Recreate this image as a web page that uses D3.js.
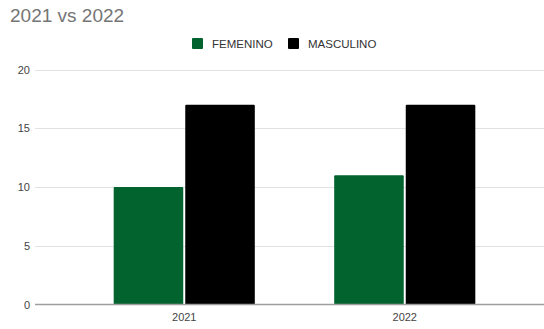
<!DOCTYPE html>
<html>
<head>
<meta charset="utf-8">
<script src="https://cdn.jsdelivr.net/npm/d3@7"></script>
<style>
  html, body { margin: 0; padding: 0; background: #fff; }
  svg { display: block; font-family: Arial, "Liberation Sans", sans-serif; }
</style>
</head>
<body>
<svg id="chart" width="544" height="329"></svg>
<script>
const title = "2021 vs 2022";
const categories = ["2021", "2022"];
const seriesNames = ["FEMENINO", "MASCULINO"];
const femenino = [10, 11];
const masculino = [17, 17];
const yTicks = [0, 5, 10, 15, 20];
const colors = ["#02632f", "#000000"];

const seriesValues = [femenino, masculino];
const svg = d3.select("#chart");
const W = 544, H = 329;

const y = d3.scaleLinear().domain([0, 20]).range([304.5, 69.5]);
const x0 = d3.scaleBand().domain(categories).range([74, 515]).paddingInner(0.36).paddingOuter(0.18);
const x1 = d3.scaleBand().domain(seriesNames).range([0, x0.bandwidth()]).paddingInner(0.028);

// title
svg.append("text").attr("x", 10).attr("y", 21.5)
  .attr("font-size", 19).attr("fill", "#757575").text(title);

// gridlines
const gridG = svg.append("g");
gridG.selectAll("line").data(yTicks.filter(d => d !== 0)).join("line")
  .attr("x1", 35).attr("x2", W)
  .attr("y1", d => Math.round(y(d)) + 0.5).attr("y2", d => Math.round(y(d)) + 0.5)
  .attr("stroke", "#e2e2e2").attr("stroke-width", 1);

// y labels
const yAxis = d3.axisLeft(y).tickValues(yTicks).tickSize(0).tickPadding(0);
const yg = svg.append("g").attr("transform", "translate(30,0)").call(yAxis);
yg.select(".domain").remove();
yg.selectAll("text").attr("font-size", 11).attr("fill", "#444").attr("font-family", "Arial, 'Liberation Sans', sans-serif");

// bars
const groups = svg.append("g").selectAll("g").data(categories).join("g")
  .attr("transform", d => `translate(${x0(d)},0)`);
groups.selectAll("rect").data((c, i) => seriesNames.map((s, j) => ({s, v: seriesValues[j][i], j})))
  .join("rect")
  .attr("x", d => x1(d.s))
  .attr("width", x1.bandwidth())
  .attr("y", d => y(d.v))
  .attr("height", d => y(0) - y(d.v))
  .attr("rx", 1)
  .attr("fill", d => colors[d.j]);

// baseline
svg.append("line").attr("x1", 35).attr("x2", W)
  .attr("y1", y(0)).attr("y2", y(0))
  .attr("stroke", "#9e9e9e").attr("stroke-width", 1.5);

// x labels
const xAxis = d3.axisBottom(x0).tickSize(0).tickPadding(0);
const xg = svg.append("g").attr("transform", "translate(0,313)").call(xAxis);
xg.select(".domain").remove();
xg.selectAll("text").attr("font-size", 11).attr("fill", "#444").attr("font-family", "Arial, 'Liberation Sans', sans-serif");

// legend
const legendPos = [192, 288];
const lg = svg.append("g").selectAll("g").data(seriesNames).join("g")
  .attr("transform", (d, i) => `translate(${legendPos[i]},38)`);
lg.append("rect").attr("width", 11).attr("height", 11).attr("rx", 1)
  .attr("fill", (d, i) => colors[i]);
lg.append("text").attr("x", 20).attr("y", 9.5).attr("font-size", 11.5)
  .attr("fill", "#333").text(d => d);
</script>
</body>
</html>
